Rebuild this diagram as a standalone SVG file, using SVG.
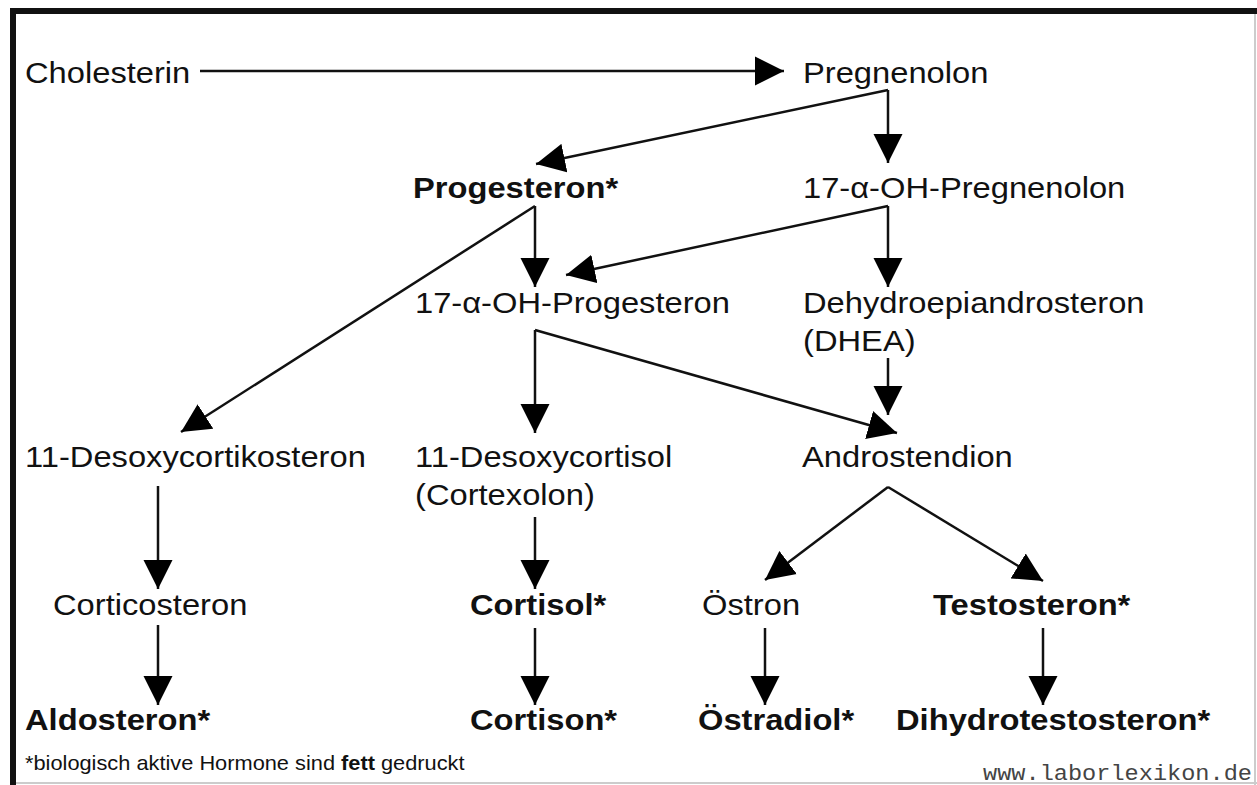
<svg xmlns="http://www.w3.org/2000/svg" width="1257" height="785" viewBox="0 0 1257 785">
<style>
.t{font-family:"Liberation Sans",Arial,sans-serif;font-size:30px;fill:#111}
.b{font-weight:bold}
.f{font-family:"Liberation Sans",Arial,sans-serif;font-size:20px;fill:#111}
.u{font-family:"Liberation Mono","Courier New",monospace;font-size:22px;fill:#444}
.c{stroke:#111;stroke-width:2.5;fill:none;marker-end:url(#ah)}
</style>
<defs>
<marker id="ah" markerUnits="userSpaceOnUse" markerWidth="30" markerHeight="30" refX="29" refY="15" orient="auto" viewBox="0 0 30 30">
<path d="M0,0.5 L29,15 L0,29.5 Z" fill="#000"/>
</marker>
</defs>
<rect x="0" y="0" width="1257" height="785" fill="#fff"/>
<g id="frame">
<line x1="1255" y1="10" x2="1255" y2="785" stroke="#ccc" stroke-width="2"/>
<line x1="10" y1="783" x2="1257" y2="783" stroke="#ccc" stroke-width="2"/>
<rect x="10" y="8" width="1247" height="6" fill="#111"/>
<rect x="10" y="8" width="6" height="777" fill="#111"/>
</g>
<g id="connectors">
<path class="c" d="M200,71 H784"/>
<path class="c" d="M888,90 V163"/>
<path class="c" d="M888,90 L536,164"/>
<path class="c" d="M535,206 V287"/>
<path class="c" d="M535,206 L181,432"/>
<path class="c" d="M888,206 V287"/>
<path class="c" d="M888,206 L566,275"/>
<path class="c" d="M888,358 V415"/>
<path class="c" d="M535,330 V433"/>
<path class="c" d="M535,330 L897,433"/>
<path class="c" d="M158,486 V589"/>
<path class="c" d="M535,517 V589"/>
<path class="c" d="M888,487 L765,580"/>
<path class="c" d="M888,487 L1043,581"/>
<path class="c" d="M158,625 V705"/>
<path class="c" d="M535,628 V705"/>
<path class="c" d="M765,628 V705"/>
<path class="c" d="M1043,628 V705"/>
</g>
<g id="cholesterin"><text class="t" transform="translate(25,83) scale(1.09,1)">Cholesterin</text></g>
<g id="pregnenolon"><text class="t" transform="translate(803,83) scale(1.09,1)">Pregnenolon</text></g>
<g id="progesteron"><text class="t b" transform="translate(413,198) scale(1.09,1)">Progesteron*</text></g>
<g id="oh-pregnenolon"><text class="t" transform="translate(803,198) scale(1.09,1)">17-α-OH-Pregnenolon</text></g>
<g id="oh-progesteron"><text class="t" transform="translate(415,313) scale(1.09,1)">17-α-OH-Progesteron</text></g>
<g id="dhea"><text class="t" transform="translate(803,313) scale(1.09,1)">Dehydroepiandrosteron</text><text class="t" transform="translate(803,351) scale(1.09,1)">(DHEA)</text></g>
<g id="desoxycortikosteron"><text class="t" transform="translate(25,467) scale(1.09,1)">11-Desoxycortikosteron</text></g>
<g id="desoxycortisol"><text class="t" transform="translate(415,467) scale(1.09,1)">11-Desoxycortisol</text><text class="t" transform="translate(415,505) scale(1.09,1)">(Cortexolon)</text></g>
<g id="androstendion"><text class="t" transform="translate(802,467) scale(1.09,1)">Androstendion</text></g>
<g id="corticosteron"><text class="t" transform="translate(53,615) scale(1.09,1)">Corticosteron</text></g>
<g id="cortisol"><text class="t b" transform="translate(470,615) scale(1.09,1)">Cortisol*</text></g>
<g id="oestron"><text class="t" transform="translate(702,615) scale(1.09,1)">Östron</text></g>
<g id="testosteron"><text class="t b" transform="translate(933,615) scale(1.09,1)">Testosteron*</text></g>
<g id="aldosteron"><text class="t b" transform="translate(25,730) scale(1.09,1)">Aldosteron*</text></g>
<g id="cortison"><text class="t b" transform="translate(470,730) scale(1.09,1)">Cortison*</text></g>
<g id="oestradiol"><text class="t b" transform="translate(698,730) scale(1.09,1)">Östradiol*</text></g>
<g id="dihydrotestosteron"><text class="t b" transform="translate(896,730) scale(1.09,1)">Dihydrotestosteron*</text></g>
<g id="footnote"><text class="f" transform="translate(25,770) scale(1.09,1)">*biologisch aktive Hormone sind <tspan font-weight="bold">fett</tspan> gedruckt</text></g>
<g id="url"><text class="u" x="983" y="780" textLength="269" lengthAdjust="spacingAndGlyphs">www.laborlexikon.de</text></g>
</svg>
